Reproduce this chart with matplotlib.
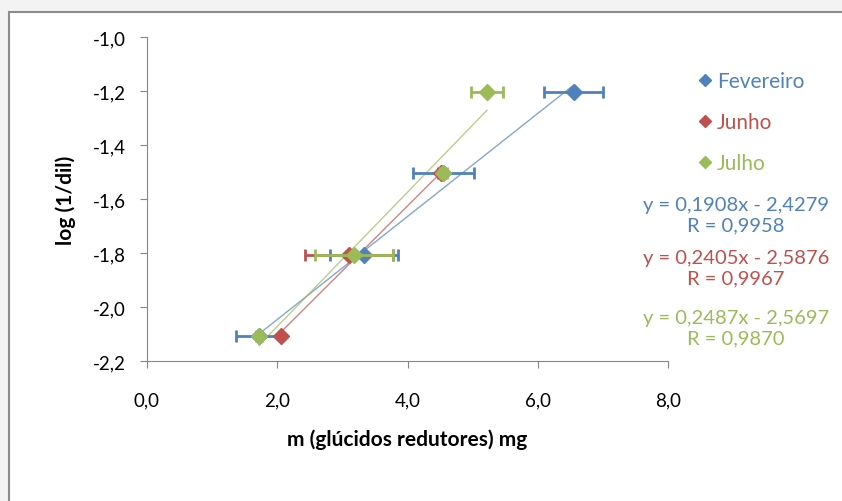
import matplotlib.pyplot as plt
from matplotlib.patches import Rectangle
from matplotlib.lines import Line2D

plt.rcParams['font.family'] = ['Lato', 'DejaVu Sans']

# dados (log(1/dil) vs massa em mg)
series = ["Fevereiro", "Junho", "Julho"]
cores = ["#4F81BD", "#C0504D", "#9BBB59"]

fev_x = [1.72, 3.33, 4.55, 6.55]
fev_y = [-2.107, -1.806, -1.505, -1.204]
fev_err = [0.35, 0.52, 0.47, 0.45]

jun_x = [2.06, 3.10, 4.52]
jun_y = [-2.107, -1.806, -1.505]
jun_err = [0.0, 0.67, 0.05]

jul_x = [1.72, 3.18, 4.55, 5.22]
jul_y = [-2.107, -1.806, -1.505, -1.204]
jul_err = [0.05, 0.60, 0.05, 0.24]

# linhas de tendência (declive, ordenada na origem, R)
declives = [0.1908, 0.2405, 0.2487]
ordenadas = [-2.4279, -2.5876, -2.5697]
R_vals = ["0,9958", "0,9967", "0,9870"]
eq_txt = ["0,1908x - 2,4279", "0,2405x - 2,5876", "0,2487x - 2,5697"]

xticks = [0, 2, 4, 6, 8]
xticklabels = ["0,0", "2,0", "4,0", "6,0", "8,0"]
yticks = [-1.0, -1.2, -1.4, -1.6, -1.8, -2.0, -2.2]
yticklabels = ["-1,0", "-1,2", "-1,4", "-1,6", "-1,8", "-2,0", "-2,2"]

fig = plt.figure(figsize=(8.42, 5.02), dpi=100, facecolor="#f3f3f3")
# moldura do gráfico
fig.patches.append(Rectangle((9 / 842, -0.1), 1.1, 1 - 13 / 502 + 0.1,
                             transform=fig.transFigure, facecolor="white",
                             edgecolor="#8c8c8c", linewidth=1.5, zorder=-5))

ax = fig.add_axes([147 / 842, 1 - 362 / 502, 521 / 842, 324 / 502])
ax.set_facecolor("none")
ax.set_zorder(2)

dados = [(fev_x, fev_y, fev_err), (jun_x, jun_y, jun_err), (jul_x, jul_y, jul_err)]

# tendências primeiro (por baixo dos marcadores)
for (xs, ys, es), m, b, c in zip(dados, declives, ordenadas, cores):
    x0, x1 = min(xs), max(xs)
    ax.plot([x0, x1], [m * x0 + b, m * x1 + b], color=c, lw=1, alpha=0.7, zorder=2)

for i, ((xs, ys, es), c) in enumerate(zip(dados, cores)):
    ax.errorbar(xs, ys, xerr=es, fmt="D", color=c, ms=8, mec=c,
                elinewidth=2, capsize=4, capthick=2, zorder=3 + i)

ax.set_xlim(0, 8)
ax.set_ylim(-2.2, -1.0)
ax.set_xticks(xticks)
ax.set_xticklabels(xticklabels, fontsize=13.5)
ax.set_yticks(yticks)
ax.set_yticklabels(yticklabels, fontsize=13.5)
for s in ["top", "right"]:
    ax.spines[s].set_visible(False)
for s in ["left", "bottom"]:
    ax.spines[s].set_color("#868686")
ax.tick_params(colors="#868686", labelcolor="black", length=5, direction="out")
ax.tick_params(axis="y", pad=10)
ax.tick_params(axis="x", pad=17)

ax.set_xlabel("m (glúcidos redutores) mg", fontsize=15, fontweight="bold", labelpad=14)
ax.set_ylabel("log (1/dil)", fontsize=15, fontweight="bold", labelpad=12)

# legenda
handles = [Line2D([], [], ls="none", marker="D", ms=6.5, color=c) for c in cores]
leg = fig.legend(handles, series, loc="upper left", bbox_to_anchor=(690 / 842, 1 - 64 / 502),
                 frameon=False, fontsize=15, labelcolor=cores, handlelength=0.6,
                 handletextpad=0.3, labelspacing=1.0, borderaxespad=0)

# equações
ys_eq = [216, 269, 329]
for y0, t, r, c in zip(ys_eq, eq_txt, R_vals, cores):
    fig.text(736 / 842, 1 - y0 / 502, f"y = {t}\nR = {r}", color=c, fontsize=14.5,
             ha="center", va="center", linespacing=1.22)

fig.savefig("out.png", dpi=100, facecolor=fig.get_facecolor())
